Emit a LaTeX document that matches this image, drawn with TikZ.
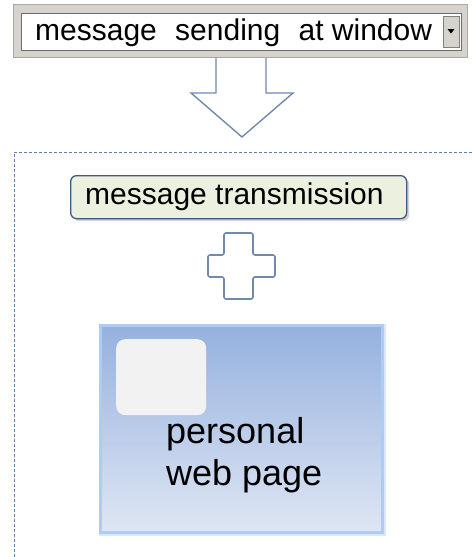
\documentclass[tikz,border=0pt]{standalone}
\usepackage{fontspec}
\setmainfont{Liberation Sans}
\usetikzlibrary{shadows}
\definecolor{framegray}{HTML}{D6D3CC}
\definecolor{edgegray}{HTML}{6E6E6E}
\definecolor{arrowblue}{HTML}{7189AB}
\definecolor{dashblue}{HTML}{5F7FA8}
\definecolor{transfill}{HTML}{ECF0DF}
\definecolor{transedge}{HTML}{3E5C82}
\definecolor{webtop}{HTML}{95B1DF}
\definecolor{webbottom}{HTML}{DFE6F4}
\definecolor{webglow}{HTML}{ADCBF3}
\definecolor{iconfill}{HTML}{F2F2F2}
\tikzset{
  outline/.style={draw=arrowblue, line width=1.4pt, line join=miter},
  labeltext/.style={inner sep=0pt, font=\fontsize{30}{36}\selectfont, text=black},
  webtext/.style={inner sep=0pt, font=\fontsize{36}{42}\selectfont, text=black, anchor=base west},
}
\begin{document}
\begin{tikzpicture}[x=1pt,y=-1pt]
\useasboundingbox (0,0) rectangle (472,557);
% hollow down arrow
\draw[outline] (216,57) -- (216,93) -- (191,93) -- (242,137) -- (293,93) -- (266,93) -- (266,57);
% combobox
\node[draw=framegray!80!black, line width=0.4pt, fill=framegray, anchor=north west, minimum width=454, minimum height=53, inner sep=0pt] (combo) at (13,4) {};
\node[draw=edgegray, line width=1.2pt, fill=white, anchor=north west, minimum width=440, minimum height=37, inner sep=0pt] (field) at (21,13) {};
\node[draw=gray, line width=0.6pt, fill=framegray, anchor=north west, minimum width=16, minimum height=31, inner sep=0pt] (btn) at (443,16) {};
\fill[black] (447.5,29) -- (454.5,29) -- (451,33.5) -- cycle;
\node[labeltext, anchor=base west] (combotext) at (35,40) {message\hspace{10pt} sending\hspace{10pt} at window};
% dashed container (top and left visible)
\draw[dashblue, line width=0.8pt, dash pattern=on 3pt off 2pt] (14,557) -- (14,152) -- (472,152);
% message transmission box
\node[draw=transedge, line width=1.3pt, fill=transfill, rounded corners=6pt, anchor=north west, minimum width=336, minimum height=43, inner sep=0pt, drop shadow={shadow xshift=2.5pt, shadow yshift=-2.5pt, opacity=0.35}] (trans) at (70,175) {};
\node[labeltext, anchor=base west] (transtext) at (85,204.5) {message transmission};
% plus sign
\draw[outline, line width=1.6pt, rounded corners=2pt] (224,233) -- (253,233) -- (253,255) -- (275,255) -- (275,277) -- (253,277) -- (253,299) -- (224,299) -- (224,277) -- (208,277) -- (208,255) -- (224,255) -- cycle;
% personal web page box
\node[draw=webglow!45!white, line width=5pt, anchor=north west, minimum width=282, minimum height=207, inner sep=0pt] (webglowbox) at (99,324) {};
\node[draw=webglow, line width=2.5pt, top color=webtop, bottom color=webbottom, anchor=north west, minimum width=282, minimum height=207, inner sep=0pt] (web) at (99,324) {};
\node[fill=iconfill, rounded corners=9pt, anchor=north west, minimum width=90, minimum height=76, inner sep=0pt] (icon) at (116,339) {};
\node[webtext] (webline1) at (166,443) {personal};
\node[webtext] (webline2) at (166,485) {web page};
\end{tikzpicture}
\end{document}
